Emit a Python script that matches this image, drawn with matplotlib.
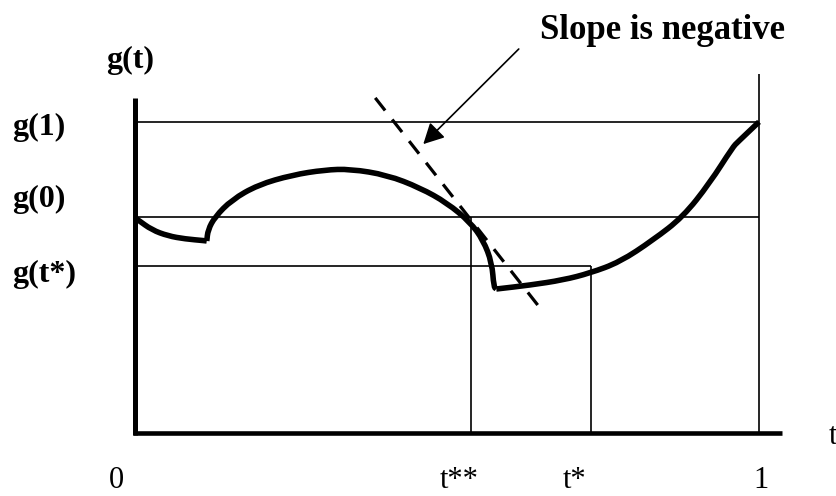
import numpy as np
import matplotlib
matplotlib.use('Agg')
import matplotlib.pyplot as plt
from matplotlib.path import Path
from matplotlib.patches import PathPatch

# ---------------------------------------------------------------------
# values (t on [0, 1], g in arbitrary units)

g1  = 1.037     # g(1)
g0  = 0.720     # g(0)
gts = 0.557     # g(t*)

t_ss = 0.538    # t**
t_s  = 0.731    # t*

# the curve g(t), drawn in three pieces (it jumps twice)
seg1_t = [0.000, 0.005, 0.027, 0.053, 0.080, 0.112, 0.115]
seg1_g = [0.717, 0.710, 0.677, 0.657, 0.647, 0.641, 0.640]

seg2_t = [0.115, 0.117, 0.128, 0.155, 0.197, 0.252, 0.304, 0.345, 0.404,
          0.457, 0.500, 0.537, 0.558, 0.572, 0.575, 0.579]
seg2_g = [0.640, 0.677, 0.720, 0.777, 0.827, 0.860, 0.877, 0.880, 0.860,
          0.817, 0.767, 0.703, 0.643, 0.567, 0.487, 0.480]

seg3_t = [0.579, 0.633, 0.686, 0.729, 0.777, 0.830, 0.878, 0.921, 0.958,
          0.966, 1.000]
seg3_g = [0.480, 0.493, 0.510, 0.533, 0.570, 0.643, 0.720, 0.833, 0.953,
          0.970, 1.037]

# tangent (dashed) and arrow
tan_t = [0.385, 0.649]
tan_g = [1.117, 0.417]
arrow_tail = (0.615, 1.280)
arrow_tip  = (0.462, 0.963)

ylabels   = ['g(1)', 'g(0)', 'g(t*)']
xlabels   = ['0', 't**', 't*', '1']
xlabel_at = [-0.03, t_ss - 0.018, t_s - 0.027, 1.003]


def smooth_path(xs, ys):
    # quadratic curve through midpoints, so the hand drawn look stays round
    P = np.column_stack([xs, ys])
    verts = [P[0], (P[0] + P[1]) / 2]
    codes = [Path.MOVETO, Path.LINETO]
    for i in range(1, len(P) - 1):
        verts += [P[i], (P[i] + P[i + 1]) / 2]
        codes += [Path.CURVE3, Path.CURVE3]
    verts.append(P[-1])
    codes.append(Path.LINETO)
    return Path(verts, codes)


fig = plt.figure(figsize=(8.37, 4.96), dpi=100)
ax = fig.add_axes([0, 0, 1, 1])
ax.set_xlim(-135 / 624, 702 / 624)
ax.set_ylim(-63 / 300, 433 / 300)
ax.axis('off')

thin = 1.2
kw = dict(color='k', lw=thin, solid_capstyle='butt')

# reference lines
ax.plot([0, 1.0], [g1, g1], **kw)
ax.plot([0, 1.0], [g0, g0], **kw)
ax.plot([0, t_s], [gts, gts], **kw)
ax.plot([t_ss, t_ss], [0, g0], **kw)
ax.plot([t_s, t_s], [0, gts], **kw)
ax.plot([1.0, 1.0], [0, 1.197], **kw)

# axes
ax.plot([0, 0], [-0.007, 1.117], color='k', lw=3.6, solid_capstyle='butt')
ax.plot([-0.004, 1.037], [0, 0], color='k', lw=3.3, solid_capstyle='butt')

# tangent line
ax.plot(tan_t, tan_g, color='k', lw=2.3, dashes=(5, 3.6), solid_capstyle='butt')

# the curve
for xs, ys in [(seg1_t, seg1_g), (seg2_t, seg2_g), (seg3_t, seg3_g)]:
    ax.add_patch(PathPatch(smooth_path(xs, ys), fill=False, lw=4.0,
                           edgecolor='k', joinstyle='miter', capstyle='butt'))

ax.annotate('', xy=arrow_tip, xytext=arrow_tail,
            arrowprops=dict(arrowstyle='-|>,head_length=1.25,head_width=0.65',
                            mutation_scale=10, color='k', lw=1.2,
                            shrinkA=0, shrinkB=0))

bold = dict(family='Liberation Serif', fontweight='bold', fontsize=23)
plain = dict(family='Liberation Serif', fontsize=22)

ax.text(0.846, 1.343, 'Slope is negative', ha='center', va='center',
        family='Liberation Serif', fontweight='bold', fontsize=25)
ax.text(-0.008, 1.243, 'g(t)', ha='center', va='center', **bold)
for lab, y in zip(ylabels, [1.017, 0.780, 0.530]):
    ax.text(-0.197, y, lab, ha='left', va='center', **bold)

for lab, x in zip(xlabels, xlabel_at):
    ax.text(x, -0.157, lab, ha='center', va='center', **plain)
ax.text(1.118, -0.013, 't', ha='center', va='center', **plain)

plt.savefig('out.png', dpi=100)
